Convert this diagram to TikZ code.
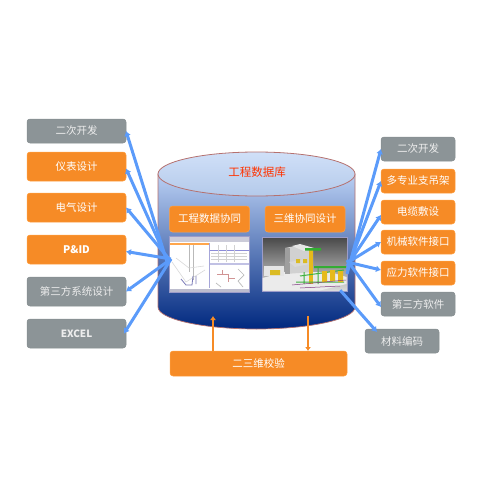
\documentclass[tikz,border=0pt]{standalone}
\usepackage{fontspec}
\setmainfont{Noto Sans CJK SC}
\usepackage{xcolor}
\usetikzlibrary{arrows.meta,positioning}
\definecolor{boxorange}{HTML}{F68B26}
\definecolor{boxgrey}{HTML}{8C9497}
\definecolor{flowblue}{HTML}{5B9BFA}
\definecolor{dbedge}{HTML}{B5716F}
\definecolor{dbtop}{HTML}{B9CFF3}
\definecolor{dbmid}{HTML}{4A74C6}
\definecolor{dbbottom}{HTML}{00287F}
\definecolor{lidtop}{HTML}{D0E0F8}
\definecolor{lidbottom}{HTML}{B4CAEA}
\begin{document}
\begin{tikzpicture}[
    x=1pt, y=-1pt,
    font=\fontsize{10.5}{12}\selectfont,
    greybox/.style={draw=black!5!boxgrey, line width=.5pt, rounded corners=3pt, fill=boxgrey, outer sep=0pt,
                    text=white!93!black, inner sep=0pt, align=center},
    orangebox/.style={draw=orange!75!white, line width=.5pt, rounded corners=3pt, fill=boxorange, outer sep=0pt,
                      text=white, inner sep=0pt, align=center},
    leftbox/.style={minimum width=99pt, minimum height=29pt},
    rightbox/.style={minimum width=74pt, minimum height=24pt},
    arrow/.style={-{Latex[length=5pt,width=7pt]}, line width=3pt, flowblue},
    syncarrow/.style={-{Latex[length=4pt,width=6pt]}, line width=2.8pt, boxorange}
]
\useasboundingbox (0,0) rectangle (500,500);
% database
\shade[top color=dbtop, middle color=dbmid, bottom color=dbbottom, draw=dbedge, line width=.7pt]
    (158,174) -- (158,307) .. controls (158,319) and (202,329) .. (256.5,329)
    .. controls (311,329) and (355,319) .. (355,307) -- (355,174) -- cycle;
\shade[top color=lidtop, bottom color=lidbottom, draw=dbedge, line width=.8pt]
    (256.5,174) ellipse [x radius=98.5, y radius=22];
\node[text=red!60!orange, font=\fontsize{11.5}{13}\selectfont] (dbtitle) at (257,172) {工程数据库};
\node[orangebox, minimum width=80pt, minimum height=26pt] (syncdata) at (209.5,219) {工程数据协同};
\node[orangebox, minimum width=80pt, minimum height=26pt] (syncthree) at (305,219) {三维协同设计};
% left screenshot
\node[draw=blue!30!gray!60, fill=white, minimum width=80pt, minimum height=56pt, inner sep=0pt] (shotleft) at (209,264) {};
\fill[blue!15!gray!35] (169.5,236.5) rectangle (248.5,242);
\fill[orange!70] (170,243) rectangle (209,244.5);
\fill[blue!15!gray!45] (170,288.5) rectangle (248.5,291.5);
\draw[blue!40!gray!50, line width=.7pt] (209.5,243) -- (209.5,288);
\fill[blue!40!gray!35] (210,262.5) rectangle (248.5,265);
\fill[blue!50!gray!60] (210,249.5) rectangle (248.5,250.5);
\draw[gray!35, line width=.5pt] (218,245) -- (218,262) (226,245) -- (226,262) (234,245) -- (234,262) (211,253) -- (247,253) (211,256) -- (247,256) (211,259) -- (247,259);
\draw[gray!55, line width=1pt] (189,245) -- (189,272) (193,245) -- (193,280);
\draw[gray!30, line width=.6pt] (172,262) -- (186,282) -- (205,270) (176,258) -- (189,268) -- (204,266);
\draw[blue!30!gray!80, line width=.8pt] (181,279) -- (186,285) -- (192,285) -- (193,276) (196,276) -- (196,284);
\draw[red!40!gray!60, line width=.5pt] (217,274) -- (228,274) -- (228,282) (222,274) -- (222,270) (228,278) -- (235,278);
\draw[gray!55, line width=.7pt] (238,269) -- (244,275) -- (238,281) -- (243,287) (216,283) -- (221,287);
% right screenshot
\shade[top color=black!72, bottom color=black!14] (262,237) rectangle (347,291);
\node[draw=blue!30!gray!60, minimum width=85pt, minimum height=54pt, inner sep=0pt] (shotright) at (304.5,264) {};
\fill[white!92!black] (262.5,278) -- (285,272) -- (330,272) -- (346.5,277) -- (346.5,284) -- (320,290.5) -- (262.5,290.5) -- cycle;
\fill[black!18] (285,248) -- (300,245) -- (313,248) -- (313,272) -- (285,274) -- cycle;
\fill[black!38] (285,248) rectangle (290,274);
\fill[white!90!black] (292,246) -- (300,244) -- (314,248) -- (304,251) -- cycle;
\fill[black!10] (264,266) rectangle (284,276);
\fill[white!85!black] (289,262) -- (302,260) -- (309,264) -- (295,267) -- cycle;
\fill[yellow!70!orange!85!black] (296,259) rectangle (300,263) (303,259) rectangle (307,263) (270,270) rectangle (280,275);
\fill[yellow!60!orange!90!black] (309,250) rectangle (313,284);
\fill[green!60!black!80] (305,248) rectangle (321,250.5) (314,266) rectangle (346,268);
\draw[green!60!black!75, line width=1pt] (300,276) -- (344,270) (304,284) -- (304,272) (318,284) -- (318,268) (296,282) -- (344,282);
\fill[yellow!60!orange!90!black] (322,271) rectangle (327,282) (330,270) rectangle (335,281) (338,271) rectangle (343,282);
\draw[violet!55!gray, line width=.5pt] (292,285) -- (346,280) (300,288) -- (340,286);
% left column
\node[greybox, leftbox, minimum height=24pt] (devleft) at (76.5,131) {二次开发};
\node[orangebox, leftbox, below=9pt of devleft] (meter) {仪表设计};
\node[orangebox, leftbox, below=12pt of meter] (elec) {电气设计};
\node[orangebox, leftbox, below=13pt of elec, font=\fontsize{10.5}{12}\selectfont\bfseries] (pid) {P\&ID};
\node[greybox, leftbox, below=13pt of pid] (thirdsys) {第三方系统设计};
\node[greybox, leftbox, below=13pt of thirdsys, font=\fontsize{10}{12}\selectfont\bfseries] (excel) {EXCEL};
% right column
\node[greybox, rightbox] (devright) at (418,149) {二次开发};
\node[orangebox, rightbox, below=8pt of devright] (support) {多专业支吊架};
\node[orangebox, rightbox, below=7pt of support] (cable) {电缆敷设};
\node[orangebox, rightbox, below=6pt of cable] (mech) {机械软件接口};
\node[orangebox, rightbox, below=7pt of mech] (stress) {应力软件接口};
\node[greybox, rightbox, below=7pt of stress] (thirdsoft) {第三方软件};
\node[greybox, rightbox] (material) at (402,341) {材料编码};
% check box
\node[orangebox, minimum width=177pt, minimum height=25pt] (check) at (258.5,363.5) {二三维校验};
% connectors
\coordinate (hubleft) at (171,259);
\coordinate (hubright) at (347,263);
\draw[arrow] ([xshift=-3pt,yshift=-6pt]hubleft) -- (devleft.east);
\draw[arrow] ([xshift=-3pt,yshift=-3pt]hubleft) -- ([yshift=-2pt]meter.east);
\draw[arrow] ([xshift=-1pt,yshift=-1pt]hubleft) -- (elec.east);
\draw[arrow] (hubleft) -- ([yshift=-2pt]pid.east);
\draw[arrow] (hubleft) -- (thirdsys.east);
\draw[arrow] (hubleft) -- ([xshift=-2pt]excel.east);
\draw[arrow] ([yshift=-11pt]hubright) -- (devright.west);
\draw[arrow] ([yshift=-7pt]hubright) -- (support.west);
\draw[arrow] ([yshift=-3pt]hubright) -- ([yshift=-3pt]cable.west);
\draw[arrow] (hubright) -- (mech.west);
\draw[arrow] ([yshift=1pt]hubright) -- ([yshift=3pt]stress.west);
\draw[arrow] ([yshift=3pt]hubright) -- ([yshift=-3pt]thirdsoft.west);
\draw[arrow] ([xshift=-7pt,yshift=1pt]shotright.south east) -- ([xshift=-25pt,yshift=-3pt]material.north);
\draw[syncarrow] (check.north -| 213,0) -- (213,316);
\draw[syncarrow] (308,316) -- (check.north -| 308,0);
\end{tikzpicture}
\end{document}
